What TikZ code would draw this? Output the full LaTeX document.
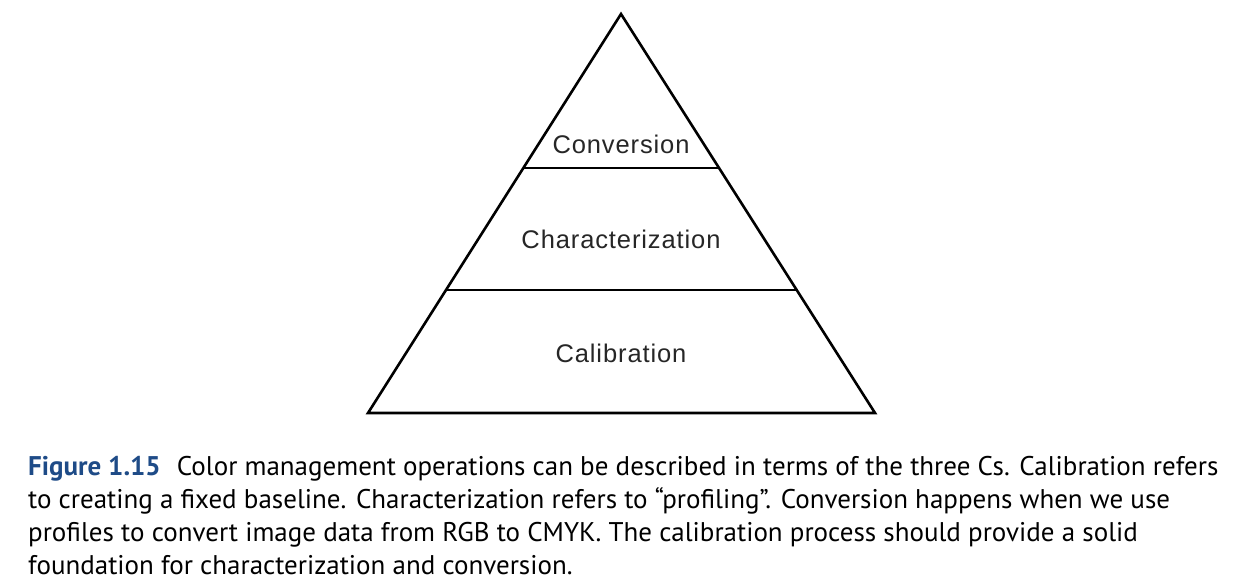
\documentclass[tikz,border=0pt]{standalone}
\usepackage{fontspec}
\setmainfont{PT Sans}
\newfontfamily\labfont[LetterSpace=3.5]{Liberation Sans}
\definecolor{figblue}{RGB}{30,75,135}
\begin{document}
\begin{tikzpicture}[x=1pt,y=-1pt,
  layer/.style={font=\labfont\fontsize{25.5}{30}\selectfont, text=black!85, anchor=base, inner sep=0pt},
  capline/.style={font=\fontsize{27}{33}\selectfont, anchor=base west, inner sep=0pt},
  edge/.style={line width=2.6pt, line join=miter}]
\useasboundingbox (0,0) rectangle (1244,587);
\coordinate (apex) at (621,14);
\coordinate (bl) at (368,413);
\coordinate (br) at (875,413);
\coordinate (l1) at (524,168);
\coordinate (r1) at (718,168);
\coordinate (l2) at (447,290);
\coordinate (r2) at (796,290);
\draw[edge] (apex) -- (br) -- (bl) -- cycle;
\draw[edge] (l1) -- (r1);
\draw[edge] (l2) -- (r2);
\node[layer] (conv) at (621,153) {Conversion};
\node[layer] (char) at (621,248) {Characterization};
\node[layer] (cal) at (621,362) {Calibration};
\node[capline] (c1) at (28,475) {\textcolor{figblue}{\textbf{Figure 1.15}}\hspace{0.6em}Color management operations can be described in terms of the three Cs. Calibration refers};
\node[capline] (c2) at (28,508) {to creating a fixed baseline. Characterization refers to “profiling”. Conversion happens when we use};
\node[capline] (c3) at (28,541) {profiles to convert image data from RGB to CMYK. The calibration process should provide a solid};
\node[capline] (c4) at (28,574) {foundation for characterization and conversion.};
\end{tikzpicture}
\end{document}
